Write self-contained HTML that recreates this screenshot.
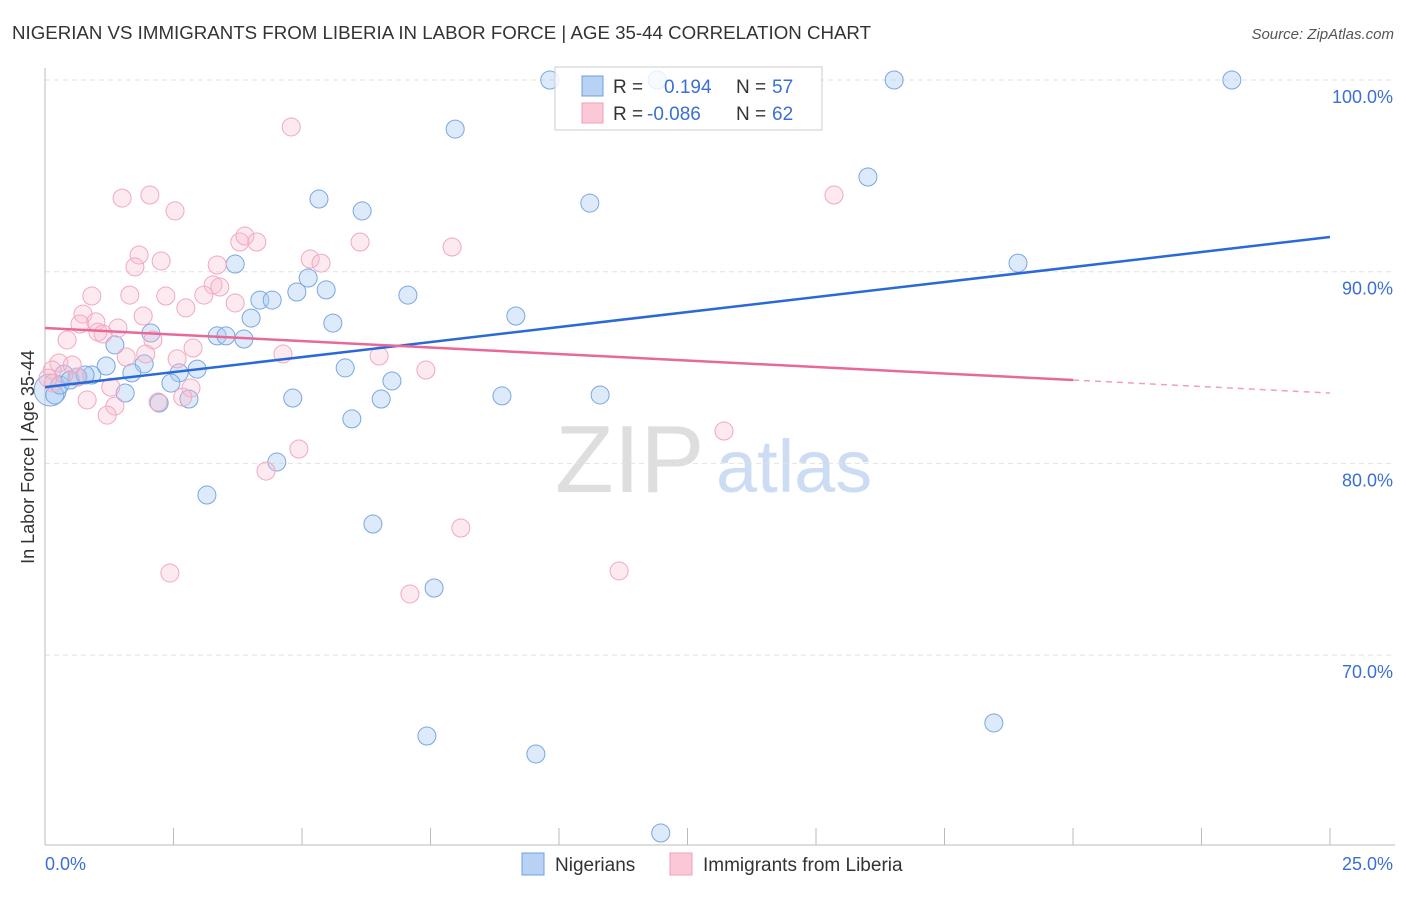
<!DOCTYPE html>
<html><head><meta charset="utf-8"><style>
body{margin:0;background:#fff;font-family:"Liberation Sans",sans-serif}
svg text{font-family:"Liberation Sans",sans-serif}
</style></head><body>
<svg id="chart" width="1406" height="892" xmlns="http://www.w3.org/2000/svg">
<text x="12" y="39" font-size="18" fill="#333" textLength="859" lengthAdjust="spacingAndGlyphs">NIGERIAN VS IMMIGRANTS FROM LIBERIA IN LABOR FORCE | AGE 35-44 CORRELATION CHART</text>
<text x="1394" y="39" font-size="15" fill="#555" font-style="italic" text-anchor="end">Source: ZipAtlas.com</text>
<text x="555" y="492" font-size="96" fill="#dedede" font-family="Liberation Serif,serif">ZIP</text>
<text x="716" y="492" font-size="74" fill="#ccdcf3">atlas</text>
<g id="grid"></g>
<g id="axes"></g>
<g id="pts"></g>
<g id="trend"></g>
<text transform="translate(34,457) rotate(-90)" font-size="18" fill="#333" text-anchor="middle">In Labor Force | Age 35-44</text>
<text x="45" y="870" font-size="18" fill="#3b6fd4">0.0%</text>
<text x="1393" y="870" font-size="18" fill="#3b6fd4" text-anchor="end">25.0%</text>
<g>
<rect x="555" y="67" width="267" height="63" fill="#fff" fill-opacity="0.8" stroke="#ccc"/>
<rect x="582" y="76" width="21" height="20" fill="#b8d2f5" stroke="#6f9fe0"/>
<rect x="582" y="103" width="21" height="20" fill="#fac8d6" stroke="#f0a0b8"/>
<text x="613" y="93" font-size="19" fill="#333">R = </text><text x="664" y="93" font-size="19" fill="#3b6fd4">0.194</text>
<text x="736" y="93" font-size="19" fill="#333">N = </text><text x="772" y="93" font-size="19" fill="#3b6fd4">57</text>
<text x="613" y="120" font-size="19" fill="#333">R = </text><text x="647" y="120" font-size="19" fill="#3b6fd4">-0.086</text>
<text x="736" y="120" font-size="19" fill="#333">N = </text><text x="772" y="120" font-size="19" fill="#3b6fd4">62</text>
</g>
<g>
<rect x="522" y="853" width="22" height="22" fill="#b8d2f5" stroke="#6f9fe0"/>
<text x="555" y="871" font-size="19" fill="#333">Nigerians</text>
<rect x="670" y="853" width="22" height="22" fill="#fac8d6" stroke="#f0a0b8"/>
<text x="703" y="871" font-size="19" fill="#333">Immigrants from Liberia</text>
</g>
</svg>
<script>
const yTicks=[100,90,80,70];
const xTickVals=[0,2.5,5,7.5,10,12.5,15,17.5,20,22.5,25];
const blueX=[9.82,11.91,16.52,23.09,7.98,16.01,5.33,6.17,10.60,3.70,18.93,5.12,5.47,4.90,4.18,4.42,7.06,4.01,5.60,9.16,2.06,3.35,3.52,3.87,1.36,1.93,1.19,5.84,2.96,2.61,1.69,0.91,0.37,0.64,6.75,2.45,1.56,4.82,6.54,8.89,10.80,2.80,2.22,5.97,4.51,3.15,6.38,7.57,7.43,9.55,18.46,11.98,0.10,0.19,0.29,0.49,0.78];
const blueY=[100,100,100,100,97.44,94.94,93.79,93.17,93.58,90.40,90.45,89.67,89.05,88.94,88.52,88.52,88.78,87.58,87.32,87.69,86.80,86.65,86.65,86.49,86.18,85.19,85.08,84.98,84.92,84.72,84.72,84.61,84.66,84.51,84.30,84.19,83.67,83.41,83.36,83.52,83.57,83.36,83.15,82.32,80.07,78.35,76.84,73.50,65.78,64.84,66.46,60.72,83.83,83.57,84.09,84.35,84.61];
const pinkX=[1.50,2.04,2.53,3.79,3.89,4.12,6.13,1.83,1.75,2.26,3.35,5.16,5.37,0.91,1.65,2.35,3.27,3.40,3.09,3.70,2.74,0.74,0.68,1.91,0.99,1.03,1.13,1.42,0.43,2.10,2.88,1.58,1.96,2.57,4.63,0.27,0.53,0.14,0.62,1.28,2.84,2.68,0.82,2.20,1.36,1.21,0.16,4.79,15.35,7.92,6.50,7.41,13.21,4.94,4.30,8.09,2.43,7.10,11.17,0.06];
const pinkY=[93.84,94.00,93.17,91.55,91.86,91.55,91.55,90.87,90.25,90.56,90.35,90.66,90.45,88.73,88.78,88.73,89.31,89.20,88.78,88.37,88.11,87.79,87.27,87.69,87.38,86.85,86.75,87.06,86.44,86.44,86.02,85.55,85.71,85.45,85.71,85.24,85.13,84.87,84.51,83.98,83.93,83.46,83.31,83.20,82.99,82.52,84.19,97.55,94.00,91.29,85.60,84.87,81.69,80.75,79.60,76.63,74.28,73.19,74.39,84.45];
const blueTrend=[[0,83.98],[25,91.81]];
const pinkTrend=[[0,87.06],[20,84.35],[25,83.67]];
const NS="http://www.w3.org/2000/svg";
const X=v=>45+v/25*1285;
const Y=v=>80+(100-v)*19.17;
function mk(t,a,p){const e=document.createElementNS(NS,t);for(const k in a)e.setAttribute(k,a[k]);document.getElementById(p).appendChild(e);return e;}
yTicks.forEach(t=>{
 const l=mk('line',{x1:45,x2:1395,y1:Y(t),y2:Y(t),stroke:'#e2e2e2','stroke-dasharray':'5,4'},'grid');
 
 
 const tx=mk('text',{x:1393,y:Y(t)+23,'font-size':18,fill:'#3b6fd4','text-anchor':'end'},'grid');
 tx.textContent=t.toFixed(1)+'%';
 
 
});
const ax=mk('line',{x1:45,x2:1395,y1:845,y2:845,stroke:'#bbb'},'axes');


const ay=mk('line',{x1:45,x2:45,y1:68,y2:845,stroke:'#bbb'},'axes');


xTickVals.forEach(v=>{
 const t=mk('line',{x1:X(v),x2:X(v),y1:828,y2:845,stroke:'#bbb'},'axes');
 
 
});
blueX.forEach((x,i)=>{
 const c=mk('circle',{cx:X(x),cy:Y(blueY[i]),r:i==52?16:9,fill:'rgba(170,202,242,0.4)',stroke:'#7aa6e2','stroke-width':1},'pts');
 
 
});
pinkX.forEach((x,i)=>{
 const c=mk('circle',{cx:X(x),cy:Y(pinkY[i]),r:9,fill:'rgba(248,185,205,0.3)',stroke:'#f2a8bf','stroke-width':1},'pts');
 
 
});
const bl=mk('line',{x1:X(blueTrend[0][0]),y1:Y(blueTrend[0][1]),x2:X(blueTrend[1][0]),y2:Y(blueTrend[1][1]),stroke:'#2b6ad6','stroke-width':2.5},'trend');


const pl=mk('line',{x1:X(pinkTrend[0][0]),y1:Y(pinkTrend[0][1]),x2:X(pinkTrend[1][0]),y2:Y(pinkTrend[1][1]),stroke:'#e8689a','stroke-width':2.5},'trend');


const pd=mk('line',{x1:X(pinkTrend[1][0]),y1:Y(pinkTrend[1][1]),x2:X(pinkTrend[2][0]),y2:Y(pinkTrend[2][1]),stroke:'#f0a0b8','stroke-width':1.5,'stroke-dasharray':'6,5'},'trend');


</script>
</body></html>
